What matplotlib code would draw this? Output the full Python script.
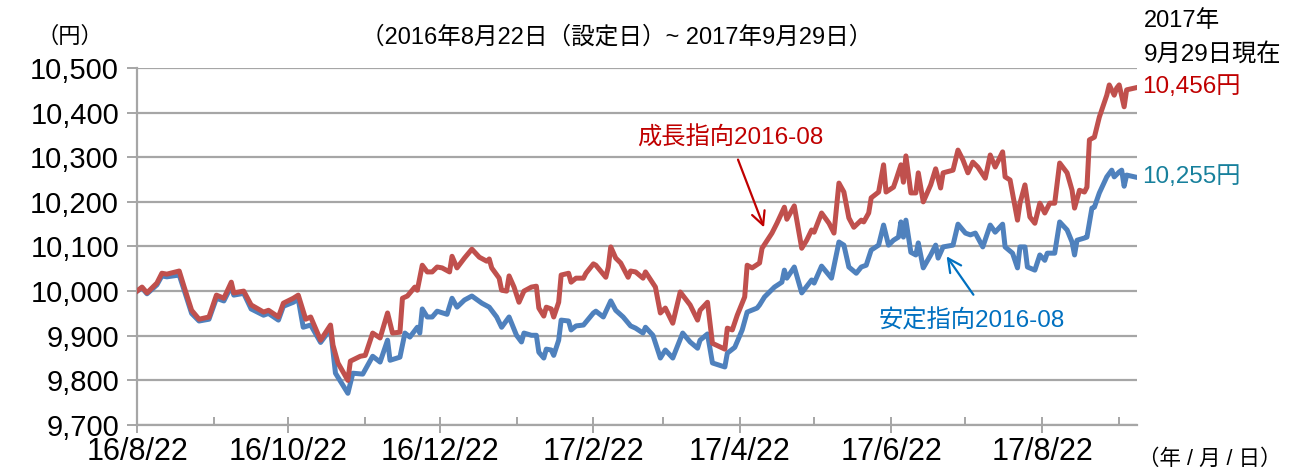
import pandas as pd
import matplotlib.pyplot as plt
from matplotlib.ticker import FuncFormatter

plt.rcParams['font.family'] = ['Liberation Sans', 'Noto Sans CJK JP', 'DejaVu Sans']

# 設定日からの経過日数と基準価額（円）
start = '2016-08-22'
days_r = [0, 2, 4, 8, 10, 12, 17, 19, 22, 25, 29, 32, 35, 38, 39, 43, 46, 51, 53, 57,
          59, 63, 65, 68, 70, 74, 78, 79, 81, 85, 86, 90, 92, 95, 98, 101, 103, 106, 107, 109,
          112, 113, 115, 117, 119, 121, 123, 126, 127, 129, 132, 135, 138, 141, 142, 143, 146, 147, 149, 150,
          152, 154, 156, 159, 161, 162, 164, 165, 167, 168, 170, 171, 174, 175, 177, 180, 181, 184, 185, 189,
          190, 191, 193, 195, 198, 199, 201, 204, 205, 209, 211, 213, 216, 219, 223, 226, 227, 230, 232, 237,
          238, 240, 242, 245, 246, 248, 251, 252, 256, 258, 261, 262, 265, 268, 270, 272, 273, 276, 279, 281,
          283, 285, 287, 289, 292, 293, 295, 296, 299, 301, 302, 305, 306, 308, 309, 310, 312, 314, 315, 317,
          320, 322, 324, 325, 329, 331, 333, 335, 337, 339, 342, 344, 346, 349, 350, 352, 355, 356, 358, 360,
          362, 364, 366, 368, 370, 372, 375, 377, 378, 380, 382, 383, 384, 386, 388, 391, 392, 394, 395, 396,
          398, 399, 403]
growth = [10000, 10009, 9996, 10018, 10040, 10038, 10045, 10009, 9957, 9937, 9942, 9991, 9984, 10020, 9996, 10000, 9969, 9953, 9957, 9942,
          9973, 9984, 9991, 9937, 9942, 9890, 9924, 9879, 9839, 9800, 9843, 9854, 9856, 9906, 9895, 9951, 9906, 9908, 9984, 9989,
          10009, 10002, 10058, 10043, 10043, 10054, 10052, 10043, 10078, 10052, 10074, 10094, 10076, 10067, 10072, 10052, 10029, 10002, 10000, 10034,
          10009, 9975, 10000, 10009, 10011, 9962, 9944, 9964, 9960, 9942, 9975, 10036, 10040, 10020, 10029, 10029, 10040, 10061, 10058, 10031,
          10054, 10099, 10074, 10063, 10031, 10045, 10043, 10029, 10043, 10009, 9951, 9962, 9928, 9998, 9969, 9935, 9957, 9975, 9883, 9870,
          9917, 9913, 9946, 9987, 10058, 10052, 10063, 10096, 10130, 10152, 10188, 10161, 10191, 10096, 10114, 10137, 10132, 10175, 10152, 10130,
          10242, 10222, 10164, 10143, 10159, 10155, 10175, 10209, 10222, 10283, 10222, 10233, 10249, 10283, 10244, 10303, 10220, 10220, 10265, 10200,
          10238, 10274, 10231, 10265, 10271, 10316, 10294, 10265, 10289, 10278, 10253, 10305, 10278, 10312, 10256, 10249, 10159, 10197, 10238, 10166,
          10152, 10197, 10175, 10197, 10197, 10287, 10265, 10226, 10186, 10226, 10222, 10233, 10339, 10345, 10390, 10439, 10462, 10439, 10455, 10462,
          10413, 10451, 10456]

days_s = [0, 2, 4, 8, 10, 12, 17, 19, 22, 25, 29, 32, 35, 38, 39, 43, 46, 51, 53, 57,
          59, 63, 65, 67, 70, 74, 78, 80, 85, 87, 91, 95, 98, 101, 102, 106, 108, 110, 113, 114,
          115, 117, 119, 121, 125, 127, 129, 132, 135, 139, 142, 145, 147, 150, 153, 155, 156, 159, 161, 162,
          164, 165, 167, 168, 170, 171, 174, 175, 177, 180, 184, 185, 188, 191, 193, 196, 199, 201, 204, 205,
          208, 211, 213, 216, 220, 223, 226, 227, 230, 232, 237, 238, 241, 244, 246, 250, 251, 253, 257, 260,
          261, 262, 265, 268, 272, 273, 276, 280, 283, 285, 287, 290, 292, 294, 296, 299, 301, 303, 305, 307,
          308, 309, 310, 312, 314, 315, 317, 320, 322, 323, 325, 329, 331, 334, 336, 338, 341, 344, 346, 349,
          350, 353, 355, 356, 358, 359, 362, 364, 366, 367, 370, 372, 375, 377, 378, 379, 382, 383, 385, 386,
          388, 391, 393, 394, 396, 397, 398, 399, 403]
stable = [10000, 10007, 9994, 10014, 10034, 10032, 10036, 10002, 9950, 9933, 9937, 9984, 9978, 10011, 9991, 9995, 9960, 9946, 9950, 9935,
          9966, 9975, 9982, 9919, 9924, 9885, 9915, 9816, 9771, 9816, 9814, 9854, 9841, 9890, 9845, 9852, 9906, 9897, 9919, 9906,
          9960, 9942, 9942, 9955, 9948, 9984, 9964, 9980, 9989, 9973, 9964, 9942, 9919, 9942, 9901, 9886, 9906, 9901, 9901, 9863,
          9850, 9870, 9868, 9856, 9890, 9935, 9933, 9913, 9922, 9924, 9951, 9955, 9942, 9978, 9957, 9942, 9922, 9917, 9906, 9919,
          9901, 9850, 9868, 9850, 9906, 9886, 9872, 9890, 9904, 9839, 9830, 9861, 9874, 9913, 9953, 9962, 9969, 9987, 10009, 10020,
          10047, 10029, 10054, 9996, 10025, 10018, 10056, 10029, 10110, 10103, 10054, 10040, 10054, 10058, 10092, 10103, 10148, 10103, 10114, 10121,
          10155, 10121, 10159, 10087, 10081, 10108, 10052, 10081, 10103, 10074, 10099, 10103, 10150, 10130, 10126, 10130, 10099, 10148, 10132, 10150,
          10099, 10085, 10052, 10099, 10099, 10054, 10047, 10081, 10069, 10085, 10085, 10155, 10137, 10110, 10081, 10114, 10119, 10121, 10186, 10188,
          10220, 10256, 10271, 10256, 10267, 10271, 10235, 10260, 10255]

major_ticks = ['2016-08-22', '2016-10-22', '2016-12-22', '2017-02-22', '2017-04-22', '2017-06-22', '2017-08-22']
major_labels = ['16/8/22', '16/10/22', '16/12/22', '17/2/22', '17/4/22', '17/6/22', '17/8/22']
minor_ticks = ['2016-09-22', '2016-11-22', '2017-01-22', '2017-03-22', '2017-05-22', '2017-07-22', '2017-09-22']
end = '2017-09-29'

t0 = pd.Timestamp(start)
dates_r = t0 + pd.to_timedelta(days_r, unit='D')
dates_s = t0 + pd.to_timedelta(days_s, unit='D')

fig = plt.figure(figsize=(12.93, 4.72), dpi=100)
ax = fig.add_axes([0.106, 0.0996, 0.773, 0.7564])

grid_c = '#a6a6a6'
ax.plot(dates_s, stable, color='#4f81bd', lw=3.6, solid_joinstyle='round', zorder=3)
ax.plot(dates_r, growth, color='#c0504d', lw=3.6, solid_joinstyle='round', zorder=4)

ax.set_ylim(9700, 10500)
ax.set_yticks(range(9700, 10501, 100))
ax.yaxis.set_major_formatter(FuncFormatter(lambda v, p: f'{int(v):,}'))
ax.set_xlim(pd.Timestamp(start), pd.Timestamp(end))
ax.set_xticks(pd.to_datetime(major_ticks))
ax.set_xticklabels(major_labels)
ax.set_xticks(pd.to_datetime(minor_ticks), minor=True)

ax.grid(axis='y', color=grid_c, lw=1.6)
ax.set_axisbelow(True)
for s in ['top', 'right']:
    ax.spines[s].set_visible(False)
for s in ['left', 'bottom']:
    ax.spines[s].set_color(grid_c)
    ax.spines[s].set_linewidth(1.6)

ax.tick_params(axis='y', length=7, width=1.4, color=grid_c, labelsize=21, pad=6)
ax.tick_params(axis='x', which='major', direction='inout', length=12, width=1.4, color=grid_c,
               labelsize=22, pad=3)
ax.tick_params(axis='x', which='minor', direction='in', length=6, width=1.4, color=grid_c)

fig.text(70 / 1293, 1 - 37 / 472, '（円）', ha='center', va='center', fontsize=16)
fig.text(617 / 1293, 1 - 37 / 472, '（2016年8月22日（設定日）~ 2017年9月29日）',
         ha='center', va='center', fontsize=17)
fig.text(1144 / 1293, 1 - 21 / 472, '2017年', ha='left', va='center', fontsize=17)
fig.text(1144 / 1293, 1 - 54 / 472, '9月29日現在', ha='left', va='center', fontsize=17.5)
fig.text(1142 / 1293, 1 - 87 / 472, '10,456円', ha='left', va='center', fontsize=17.5, color='#c00000')
fig.text(1142 / 1293, 1 - 177 / 472, '10,255円', ha='left', va='center', fontsize=17.5, color='#17809c')
fig.text(1138 / 1293, 1 - 459 / 472, '（年 / 月 / 日）', ha='left', va='center', fontsize=15.5)

fig.text(730 / 1293, 1 - 138 / 472, '成長指向2016-08', ha='center', va='center', fontsize=17.5, color='#c00000')
fig.text(972 / 1293, 1 - 321 / 472, '安定指向2016-08', ha='center', va='center', fontsize=17.5, color='#0070c0')

ax.annotate('', xy=(765 / 1293, 1 - 230 / 472), xytext=(737 / 1293, 1 - 157 / 472),
            xycoords='figure fraction', textcoords='figure fraction',
            arrowprops=dict(arrowstyle='->', color='#c00000', lw=1.6, mutation_scale=24))
ax.annotate('', xy=(945 / 1293, 1 - 254 / 472), xytext=(975 / 1293, 1 - 297 / 472),
            xycoords='figure fraction', textcoords='figure fraction',
            arrowprops=dict(arrowstyle='->', color='#0070c0', lw=1.6, mutation_scale=24))

fig.savefig('out.png', dpi=100)
